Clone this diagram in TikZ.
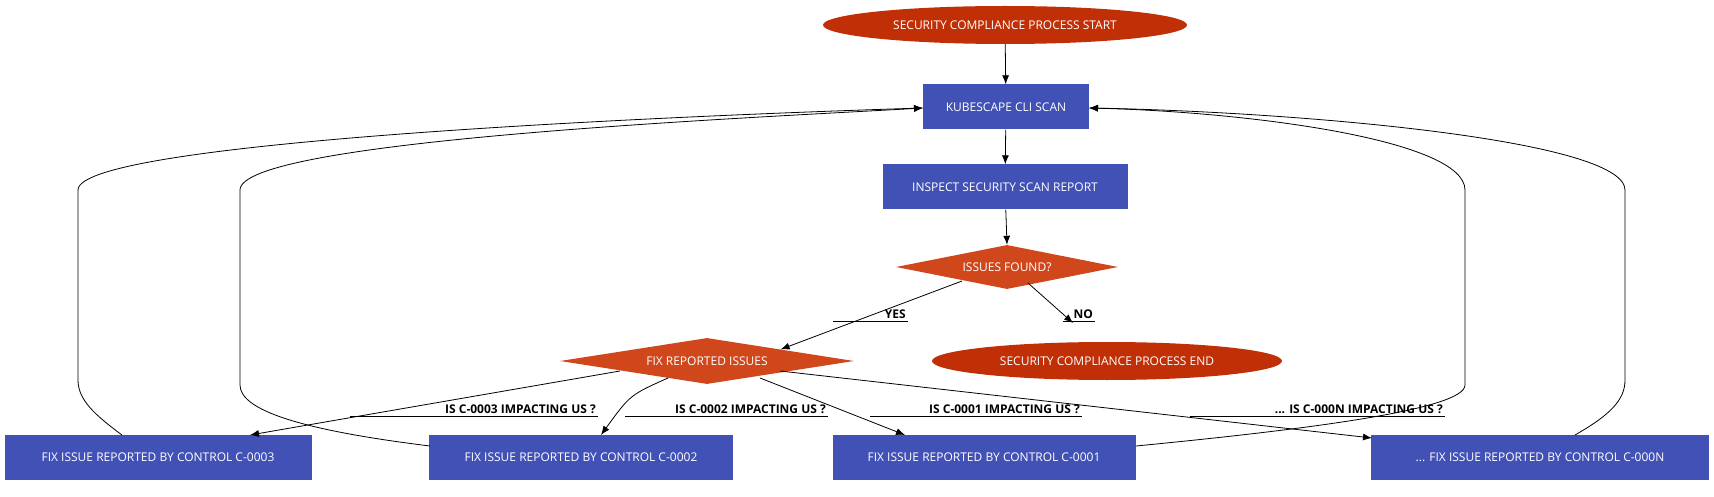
\documentclass[tikz,border=0pt]{standalone}
\usepackage{fontspec}
\setmainfont{Open Sans}
\usetikzlibrary{shapes.geometric,arrows.meta}
\definecolor{red1}{HTML}{C12F07}
\definecolor{org}{HTML}{D0471C}
\definecolor{blu}{HTML}{4151B5}
\begin{document}
\begin{tikzpicture}[x=1pt,y=-1pt,
  every node/.style={font=\fontsize{12}{14}\selectfont,text=white,inner sep=0pt},
  ell/.style={ellipse,fill=red1,minimum width=#1,minimum height=38},
  box/.style={rectangle,fill=blu,minimum width=#1,minimum height=45},
  dia/.style={diamond,aspect=5,fill=org,minimum width=#1},
  arr/.style={-{Latex[length=9,width=7]},line width=0.8pt},
  ln/.style={line width=0.8pt},
  lab/.style={text=black,font=\bfseries\fontsize{12}{14}\selectfont,anchor=south east}]
\useasboundingbox (0,0) rectangle (1714,497);
\node[ell=364] (start) at (1005,25) {SECURITY COMPLIANCE PROCESS START};
\node[box=166] (scan) at (1006,107) {KUBESCAPE CLI SCAN};
\node[box=245] (insp) at (1005,187) {INSPECT SECURITY SCAN REPORT};
\node[diamond,fill=org,minimum width=222,minimum height=44,inner sep=0pt] (found) at (1007,267) {};
\node at (found) {ISSUES FOUND?};
\node[diamond,fill=org,minimum width=294,minimum height=46] (fix) at (707,361) {};
\node at (fix) {FIX REPORTED ISSUES};
\node[ell=350] (end) at (1107,361) {SECURITY COMPLIANCE PROCESS END};
\node[box=307] (c3) at (158,457) {FIX ISSUE REPORTED BY CONTROL C-0003};
\node[box=304] (c2) at (581,457) {FIX ISSUE REPORTED BY CONTROL C-0002};
\node[box=303] (c1) at (984,457) {FIX ISSUE REPORTED BY CONTROL C-0001};
\node[box=338] (cn) at (1540,457) {... FIX ISSUE REPORTED BY CONTROL C-000N};
\draw[arr] (start) -- (scan);
\draw[arr] (scan) -- (insp);
\draw[arr] (insp) -- (found.north);
\draw[arr] (962,281) -- (fix.north east) coordinate (fa);
\draw[arr] (1028,283) -- (1073,323);
\draw[arr] (620,371) -- (250,435);
\draw[arr] (668,378) .. controls (630,395) .. (601,435);
\draw[arr] (760,378) -- (905,435);
\draw[arr] (780,371) -- (1372,438);
% back edges
\draw[arr] (122,435) .. controls (95,415) and (78,400) .. (78,380) -- (78,190) .. controls (78,140) and (700,115) .. (923,108);
\draw[arr] (430,446) .. controls (300,430) and (240,410) .. (240,385) -- (240,190) .. controls (240,140) and (750,118) .. (923,108);
\draw[arr] (1136,446) .. controls (1300,430) and (1465,410) .. (1465,385) -- (1465,190) .. controls (1465,140) and (1250,112) .. (1089,108);
\draw[arr] (1575,435) .. controls (1610,415) and (1625,400) .. (1625,380) -- (1625,190) .. controls (1625,140) and (1300,112) .. (1089,108);
% labels
\node[lab] at (906,319) {YES};
\draw[ln] (833,321) -- (908,321);
\node[lab] at (1093,319) {NO};
\draw[ln] (1063,321) -- (1095,321);
\node[lab] at (596,414) {IS C-0003 IMPACTING US ?};
\draw[ln] (350,416) -- (598,416);
\node[lab] at (826,414) {IS C-0002 IMPACTING US ?};
\draw[ln] (625,416) -- (828,416);
\node[lab] at (1080,414) {IS C-0001 IMPACTING US ?};
\draw[ln] (870,416) -- (1082,416);
\node[lab] at (1443,414) {... IS C-000N IMPACTING US ?};
\draw[ln] (1190,416) -- (1445,416);
\end{tikzpicture}
\end{document}
